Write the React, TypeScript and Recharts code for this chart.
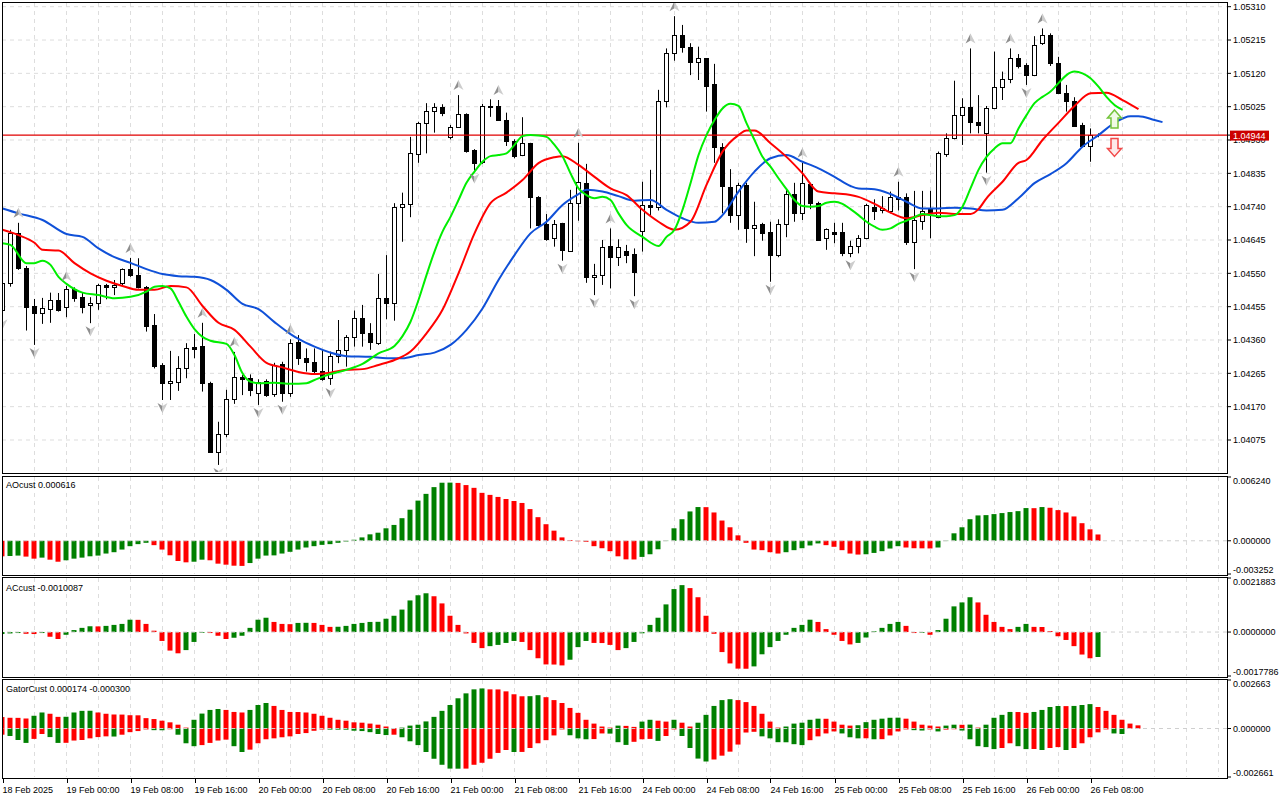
import React from 'react';
import { ComposedChart, Bar, Line, Scatter, XAxis, YAxis, CartesianGrid, ReferenceLine, Cell } from 'recharts';

// H1 bars from 18 Feb 2025 16:00 to 26 Feb 08:00 (bar 137 is the forming one)
// [open, high, low, close]
const OHLC: [number, number, number, number][] = [
  [1.04446, 1.04531, 1.04428, 1.04522], [1.04522, 1.04674, 1.04512, 1.04664], [1.04664, 1.04694, 1.04560, 1.04564],
  [1.04564, 1.04571, 1.04387, 1.04455], [1.04457, 1.04477, 1.04346, 1.04438], [1.04438, 1.04480, 1.04406, 1.04450],
  [1.04448, 1.04495, 1.04409, 1.04474], [1.04474, 1.04494, 1.04441, 1.04446], [1.04455, 1.04514, 1.04425, 1.04505],
  [1.04505, 1.04510, 1.04469, 1.04479], [1.04482, 1.04494, 1.04436, 1.04455], [1.04459, 1.04482, 1.04408, 1.04465],
  [1.04465, 1.04520, 1.04446, 1.04516], [1.04516, 1.04520, 1.04476, 1.04510], [1.04512, 1.04531, 1.04488, 1.04518],
  [1.04522, 1.04564, 1.04514, 1.04562], [1.04562, 1.04594, 1.04540, 1.04545], [1.04545, 1.04593, 1.04507, 1.04510],
  [1.04512, 1.04514, 1.04384, 1.04400], [1.04403, 1.04434, 1.04279, 1.04286], [1.04289, 1.04294, 1.04189, 1.04237],
  [1.04237, 1.04329, 1.04189, 1.04243], [1.04241, 1.04314, 1.04215, 1.04279], [1.04279, 1.04351, 1.04251, 1.04336],
  [1.04341, 1.04377, 1.04308, 1.04335], [1.04343, 1.04409, 1.04213, 1.04238], [1.04238, 1.04241, 1.04039, 1.04042],
  [1.04042, 1.04127, 1.04004, 1.04092], [1.04092, 1.04218, 1.04083, 1.04191], [1.04191, 1.04326, 1.04178, 1.04255],
  [1.04255, 1.04260, 1.04203, 1.04250], [1.04251, 1.04262, 1.04200, 1.04218], [1.04208, 1.04248, 1.04175, 1.04241],
  [1.04244, 1.04248, 1.04198, 1.04203], [1.04206, 1.04295, 1.04198, 1.04289], [1.04292, 1.04298, 1.04184, 1.04210],
  [1.04210, 1.04362, 1.04198, 1.04352], [1.04355, 1.04374, 1.04289, 1.04308], [1.04308, 1.04336, 1.04270, 1.04298],
  [1.04298, 1.04336, 1.04265, 1.04273], [1.04273, 1.04334, 1.04244, 1.04248], [1.04251, 1.04327, 1.04232, 1.04315],
  [1.04315, 1.04417, 1.04294, 1.04332], [1.04332, 1.04374, 1.04284, 1.04368], [1.04368, 1.04444, 1.04341, 1.04422],
  [1.04422, 1.04460, 1.04341, 1.04381], [1.04381, 1.04408, 1.04332, 1.04355], [1.04352, 1.04548, 1.04346, 1.04479],
  [1.04479, 1.04602, 1.04419, 1.04465], [1.04465, 1.04750, 1.04415, 1.04738], [1.04738, 1.04780, 1.04640, 1.04747],
  [1.04747, 1.04939, 1.04710, 1.04892], [1.04889, 1.04982, 1.04865, 1.04978], [1.04978, 1.05035, 1.04892, 1.05014],
  [1.05014, 1.05035, 1.04951, 1.05025], [1.05025, 1.05032, 1.04998, 1.05006], [1.04938, 1.04973, 1.04932, 1.04968],
  [1.04968, 1.05058, 1.04966, 1.05004], [1.05004, 1.05006, 1.04894, 1.04900], [1.04902, 1.04904, 1.04843, 1.04865],
  [1.04868, 1.05033, 1.04862, 1.05027], [1.05025, 1.05046, 1.04996, 1.05027], [1.05027, 1.05044, 1.04985, 1.04987],
  [1.04987, 1.05008, 1.04913, 1.04928], [1.04928, 1.04932, 1.04878, 1.04884], [1.04887, 1.04995, 1.04884, 1.04921],
  [1.04921, 1.04922, 1.04678, 1.04767], [1.04768, 1.04770, 1.04683, 1.04688], [1.04691, 1.04719, 1.04643, 1.04647],
  [1.04650, 1.04702, 1.04626, 1.04691], [1.04693, 1.04694, 1.04586, 1.04617], [1.04615, 1.04788, 1.04612, 1.04750],
  [1.04750, 1.04922, 1.04700, 1.04811], [1.04808, 1.04862, 1.04523, 1.04539], [1.04539, 1.04577, 1.04488, 1.04545],
  [1.04544, 1.04645, 1.04517, 1.04626], [1.04628, 1.04678, 1.04507, 1.04597], [1.04597, 1.04647, 1.04571, 1.04624],
  [1.04615, 1.04631, 1.04579, 1.04602], [1.04605, 1.04621, 1.04485, 1.04555], [1.04672, 1.04811, 1.04612, 1.04745],
  [1.04745, 1.04845, 1.04716, 1.04738], [1.04738, 1.05073, 1.04729, 1.05041], [1.05041, 1.05191, 1.05023, 1.05179],
  [1.05179, 1.05283, 1.05156, 1.05229], [1.05229, 1.05258, 1.05179, 1.05194], [1.05194, 1.05206, 1.05115, 1.05153],
  [1.05153, 1.05196, 1.05101, 1.05163], [1.05163, 1.05163, 1.05011, 1.05084], [1.05090, 1.05147, 1.04865, 1.04909],
  [1.04911, 1.04921, 1.04721, 1.04799], [1.04797, 1.04847, 1.04694, 1.04716], [1.04716, 1.04808, 1.04674, 1.04802],
  [1.04802, 1.04808, 1.04637, 1.04680], [1.04680, 1.04754, 1.04599, 1.04688], [1.04691, 1.04694, 1.04643, 1.04666],
  [1.04669, 1.04697, 1.04526, 1.04602], [1.04602, 1.04704, 1.04596, 1.04691], [1.04691, 1.04792, 1.04653, 1.04776],
  [1.04776, 1.04808, 1.04697, 1.04723], [1.04721, 1.04865, 1.04702, 1.04807], [1.04805, 1.04808, 1.04733, 1.04750],
  [1.04751, 1.04754, 1.04643, 1.04645], [1.04650, 1.04678, 1.04617, 1.04676], [1.04667, 1.04694, 1.04636, 1.04662],
  [1.04667, 1.04694, 1.04599, 1.04609], [1.04609, 1.04643, 1.04596, 1.04628], [1.04628, 1.04659, 1.04607, 1.04650],
  [1.04650, 1.04748, 1.04647, 1.04745], [1.04740, 1.04761, 1.04702, 1.04729], [1.04731, 1.04770, 1.04721, 1.04736],
  [1.04729, 1.04783, 1.04721, 1.04767], [1.04768, 1.04811, 1.04729, 1.04761], [1.04767, 1.04778, 1.04631, 1.04640],
  [1.04640, 1.04785, 1.04562, 1.04702], [1.04700, 1.04785, 1.04674, 1.04729], [1.04735, 1.04785, 1.04650, 1.04725],
  [1.04710, 1.04897, 1.04707, 1.04892], [1.04890, 1.04949, 1.04882, 1.04935], [1.04935, 1.05099, 1.04932, 1.05001],
  [1.05001, 1.05049, 1.04916, 1.05023], [1.05025, 1.05191, 1.04949, 1.04982], [1.04982, 1.05058, 1.04949, 1.04973],
  [1.04949, 1.05027, 1.04837, 1.05020], [1.05020, 1.05182, 1.05018, 1.05082], [1.05082, 1.05125, 1.05044, 1.05103],
  [1.05103, 1.05191, 1.05092, 1.05163], [1.05163, 1.05175, 1.05134, 1.05141], [1.05144, 1.05149, 1.05087, 1.05115],
  [1.05115, 1.05226, 1.05112, 1.05201], [1.05206, 1.05248, 1.05201, 1.05229], [1.05229, 1.05234, 1.05141, 1.05150],
  [1.05150, 1.05167, 1.05061, 1.05063], [1.05063, 1.05087, 1.05011, 1.05042], [1.05042, 1.05052, 1.04968, 1.04970],
  [1.04973, 1.04979, 1.04911, 1.04913], [1.04913, 1.04963, 1.04868, 1.04944], [1.04944, 1.04949, 1.04938, 1.04944],
];

// alligator lines, [bar, price]; they run past the last bar by their shift
const JAW: [number, number][] = [
  [0, 1.04735], [2, 1.04721], [5, 1.04702], [8, 1.04662], [10, 1.04654], [12, 1.04621], [14, 1.04596], [16, 1.0458],
  [18, 1.04562], [20, 1.04548], [22, 1.04542], [24, 1.0454], [26, 1.04531], [28, 1.04503], [30, 1.04463], [32, 1.04448],
  [34, 1.04411], [36, 1.04377], [37, 1.04363], [39, 1.04341], [41, 1.04324], [43, 1.04314], [46, 1.04312], [48, 1.04308],
  [50, 1.04308], [52, 1.04317], [54, 1.04324], [56, 1.04346], [58, 1.04389], [60, 1.0445], [62, 1.04531], [64, 1.04602],
  [66, 1.04664], [68, 1.04697], [70, 1.04745], [72, 1.04776], [73, 1.04788], [75, 1.04783], [77, 1.0477], [79, 1.04757],
  [81, 1.04759], [83, 1.04731], [85, 1.04707], [87, 1.04694], [89, 1.04697], [90, 1.04716], [92, 1.04783], [94, 1.0484],
  [96, 1.04878], [98, 1.04887], [100, 1.04868], [102, 1.04849], [104, 1.04825], [106, 1.04799], [107, 1.04792], [109, 1.0479],
  [111, 1.04776], [113, 1.04754], [115, 1.04735], [117, 1.04735], [119, 1.04737], [121, 1.04735], [123, 1.04729], [125, 1.04731],
  [127, 1.04764], [129, 1.04807], [131, 1.04833], [133, 1.04864], [135, 1.04911], [137, 1.04944], [139, 1.04979], [141, 1.04998],
  [142, 1.04998], [144, 1.04987], [145, 1.04981],
];

const TEETH: [number, number][] = [
  [0, 1.04674], [2, 1.04659], [4, 1.04637], [5, 1.04617], [7, 1.04615], [9, 1.04579], [11, 1.0455], [13, 1.04529],
  [15, 1.04514], [17, 1.04503], [19, 1.04503], [21, 1.04514], [23, 1.0451], [25, 1.04457], [27, 1.04409], [29, 1.04389],
  [31, 1.04341], [33, 1.04295], [35, 1.04282], [37, 1.04269], [39, 1.04263], [41, 1.04267], [43, 1.04275], [45, 1.04277],
  [47, 1.04289], [49, 1.04303], [51, 1.04327], [53, 1.04379], [55, 1.04446], [57, 1.0455], [59, 1.04664], [61, 1.0475],
  [63, 1.0478], [65, 1.04816], [67, 1.04864], [69, 1.04881], [70, 1.04884], [72, 1.04859], [74, 1.04825], [76, 1.04792],
  [78, 1.04773], [80, 1.04731], [82, 1.04697], [84, 1.04674], [86, 1.04697], [88, 1.04802], [90, 1.04897], [92, 1.04944],
  [93, 1.04957], [94, 1.04957], [96, 1.04921], [98, 1.04882], [100, 1.04835], [102, 1.04783], [104, 1.04778], [106, 1.04773],
  [107, 1.04768], [109, 1.04748], [111, 1.04723], [113, 1.04707], [115, 1.04716], [117, 1.04723], [119, 1.04719], [121, 1.04719],
  [122, 1.04733], [123, 1.04764], [125, 1.04811], [127, 1.04865], [128, 1.04873], [130, 1.0493], [132, 1.04979], [134, 1.05027],
  [136, 1.05063], [138, 1.05065], [140, 1.05044], [142, 1.05018],
];

const LIPS: [number, number][] = [
  [0, 1.04636], [1, 1.04631], [3, 1.04579], [4, 1.04579], [5, 1.04586], [6, 1.04574], [7, 1.0454], [8, 1.0452],
  [10, 1.04495], [12, 1.04488], [14, 1.04479], [16, 1.04483], [18, 1.04498], [19, 1.04512], [20, 1.04514], [21, 1.04507],
  [22, 1.04469], [23, 1.04426], [24, 1.04391], [25, 1.04369], [26, 1.04358], [28, 1.04349], [29, 1.04317], [30, 1.04265],
  [31, 1.04241], [32, 1.04237], [34, 1.04238], [36, 1.04235], [38, 1.04237], [39, 1.04246], [41, 1.04263], [43, 1.04275],
  [45, 1.04292], [47, 1.04322], [49, 1.04343], [50, 1.04371], [51, 1.04412], [52, 1.04474], [53, 1.04545], [54, 1.04612],
  [55, 1.04669], [56, 1.04711], [57, 1.04759], [58, 1.04808], [59, 1.0484], [60, 1.04868], [61, 1.04884], [62, 1.04887],
  [63, 1.04892], [64, 1.04916], [65, 1.04941], [66, 1.04944], [67, 1.04943], [68, 1.04939], [69, 1.04916], [70, 1.04884],
  [71, 1.04835], [72, 1.04792], [73, 1.04773], [74, 1.04764], [75, 1.04768], [76, 1.04759], [77, 1.04721], [78, 1.04688],
  [80, 1.04654], [82, 1.04628], [83, 1.04654], [84, 1.04674], [85, 1.04731], [86, 1.04807], [87, 1.04887], [88, 1.04944],
  [89, 1.04987], [90, 1.0502], [91, 1.05033], [92, 1.05027], [93, 1.04978], [94, 1.0493], [95, 1.04882], [96, 1.04854],
  [97, 1.04821], [98, 1.0479], [99, 1.04759], [100, 1.04742], [101, 1.0474], [102, 1.04742], [103, 1.04751], [104, 1.04754],
  [105, 1.04748], [106, 1.04733], [107, 1.04716], [108, 1.04697], [109, 1.04683], [110, 1.04674], [111, 1.04678], [112, 1.04691],
  [113, 1.047], [114, 1.0471], [115, 1.04719], [116, 1.04716], [117, 1.04713], [118, 1.04713], [119, 1.04716], [120, 1.0474],
  [121, 1.04792], [122, 1.04845], [123, 1.04882], [124, 1.04906], [125, 1.04921], [126, 1.04921], [127, 1.04963], [128, 1.05001],
  [129, 1.05035], [130, 1.05053], [131, 1.05068], [132, 1.05092], [133, 1.05115], [134, 1.05125], [135, 1.0512], [136, 1.05106],
  [137, 1.05082], [138, 1.05053], [139, 1.0503], [140, 1.05016],
];

const AO = [
  -0.00152, -0.00149, -0.00145, -0.00155, -0.00175, -0.00165, -0.00185, -0.00205, -0.00191, -0.00175,
  -0.00165, -0.00152, -0.00145, -0.00125, -0.00112, -0.00086, -0.00053, -0.00033, -0.0002, -0.00043,
  -0.00086, -0.00142, -0.00198, -0.00211, -0.00205, -0.00185, -0.00191, -0.00224, -0.00234, -0.00244,
  -0.00246, -0.00218, -0.00175, -0.00145, -0.00143, -0.00125, -0.00108, -0.00086, -0.00066, -0.00053,
  -0.0004, -0.00033, -0.0002, -0.00007, 0.0001, 0.00033, 0.00063, 0.00079, 0.00122, 0.00155,
  0.00221, 0.00304, 0.00393, 0.00459, 0.00525, 0.00568, 0.00569, 0.00566, 0.00545, 0.00518,
  0.00469, 0.00449, 0.00429, 0.00409, 0.00389, 0.0037, 0.0031, 0.00231, 0.00162, 0.00099,
  0.00033, 0.00007, -0.00005, -0.0001, -0.00053, -0.00073, -0.00102, -0.00152, -0.00182, -0.00183,
  -0.00158, -0.00132, -0.00083, -0.00003, 0.00122, 0.00211, 0.00287, 0.0033, 0.00329, 0.00277,
  0.00198, 0.00132, 0.00053, -0.0002, -0.00086, -0.00092, -0.00112, -0.00125, -0.00112, -0.00092,
  -0.00073, -0.00046, -0.00026, -0.00043, -0.00059, -0.00092, -0.00125, -0.00135, -0.00132, -0.00119,
  -0.00102, -0.00076, -0.00053, -0.00066, -0.00073, -0.00074, -0.00075, -0.00066, -0.00003, 0.00073,
  0.00132, 0.00211, 0.00248, 0.00251, 0.00261, 0.00271, 0.00281, 0.0029, 0.0032, 0.00319,
  0.0033, 0.00323, 0.003, 0.00277, 0.00238, 0.00172, 0.00112, 0.000616,
];

const AC = [
  -0.00008, -0.000055, -0.00004, -0.00007, -0.00008, -0.00004, -0.00019, -0.00028, -0.00011, 0.00008,
  0.00017, 0.000235, 0.00023, 0.00025, 0.00029, 0.00033, 0.0005, 0.000495, 0.00033, 0.000055,
  -0.00036, -0.00075, -0.00086, -0.00073, -0.0004, -0.00003, -0.00004, -0.00015, -0.00028, -0.00023,
  -0.00015, 0.00017, 0.0005, 0.00058, 0.00041, 0.00033, 0.00032, 0.00037, 0.000375, 0.00037,
  0.00029, 0.00021, 0.000215, 0.00025, 0.00033, 0.00037, 0.00041, 0.000415, 0.00054, 0.00066,
  0.00091, 0.00128, 0.00149, 0.00157, 0.00145, 0.00116, 0.00066, 0.00029, -0.000055, -0.00044,
  -0.00065, -0.00057, -0.00052, -0.00044, -0.00036, -0.0004, -0.00073, -0.00106, -0.00131, -0.001315,
  -0.00135, -0.00112, -0.00061, -0.00036, -0.00044, -0.000445, -0.00052, -0.00073, -0.00065, -0.0004,
  -0.00005, 0.00029, 0.00058, 0.00112, 0.00174, 0.0019, 0.00178, 0.00141, 0.00066, -0.00007,
  -0.00081, -0.00127, -0.00148, -0.001485, -0.00139, -0.0009, -0.00061, -0.00036, -0.00011, 0.00017,
  0.00029, 0.0005, 0.00041, 0.00012, -0.00011, -0.00036, -0.0005, -0.00044, -0.00022, 0.00003,
  0.00017, 0.00033, 0.00041, 0.00025, -0.00004, -0.00003, -0.00011, 0.00008, 0.00054, 0.00104,
  0.0012, 0.00141, 0.0012, 0.0007, 0.00041, 0.00021, 0.00012, 0.00021, 0.00033, 0.00021,
  0.000205, 0.00004, -0.00017, -0.00032, -0.00057, -0.00091, -0.00106, -0.0010087,
];

const GATOR_UP = [
  0.00063, 0.00059, 0.000585, 0.00055, 0.0007, 0.00088, 0.00081, 0.00064, 0.000645, 0.00088,
  0.00097, 0.000975, 0.00088, 0.00081, 0.00077, 0.000765, 0.00073, 0.000725, 0.00057, 0.00052,
  0.00043, 0.00034, 0.00021, 0.00005, 0.00048, 0.00082, 0.00102, 0.00107, 0.00102, 0.00091,
  0.00088, 0.00102, 0.00129, 0.0014, 0.00124, 0.00102, 0.00091, 0.000905, 0.00088, 0.00081,
  0.0007, 0.00059, 0.00048, 0.00043, 0.00034, 0.00032, 0.00027, 0.00021, 0.00011, 0.00002,
  0.00005, 0.00016, 0.00021, 0.00039, 0.00064, 0.00097, 0.00129, 0.00166, 0.00193, 0.00215,
  0.0022, 0.00215, 0.002145, 0.00204, 0.00188, 0.00177, 0.001775, 0.00183, 0.00172, 0.00156,
  0.0014, 0.00113, 0.00086, 0.00048, 0.00027, 0.00011, 0.00005, 0.00016, 0.000145, 0.00009,
  0.00038, 0.00048, 0.00043, 0.00038, 0.00048, 0.00032, 0.00011, 0.00032, 0.00075, 0.00124,
  0.00156, 0.00161, 0.00156, 0.00145, 0.00124, 0.00081, 0.00038, 0.00005, 0.00011, 0.00027,
  0.00032, 0.00048, 0.00054, 0.000535, 0.00038, 0.00021, 0.00016, 0.00018, 0.00035, 0.00048,
  0.00054, 0.00059, 0.000595, 0.00054, 0.00038, 0.00021, 0.00016, 0.00011, 0.00016, 0.00021,
  0.000205, 0.000215, 0.00005, 0.00021, 0.00059, 0.00075, 0.00091, 0.000905, 0.00086, 0.00091,
  0.00102, 0.00118, 0.001235, 0.00123, 0.00124, 0.00129, 0.00134, 0.00118, 0.00097, 0.00075,
  0.00048, 0.00027, 0.000174,
];

const GATOR_DOWN = [
  -0.00034, -0.00041, -0.00063, -0.00079, -0.00057, -0.0003, -0.00047, -0.00079, -0.000785, -0.00066,
  -0.00063, -0.00054, -0.00047, -0.00043, -0.00044, -0.00034, -0.0002, -0.00014, -0.00005, -0.00009,
  -0.000095, -0.00004, -0.00034, -0.00081, -0.00097, -0.00091, -0.00079, -0.00066, -0.00061, -0.00097,
  -0.00129, -0.00116, -0.00081, -0.00059, -0.00054, -0.00048, -0.00043, -0.0003, -0.00025, -0.000125,
  -0.000055, -0.00006, -0.000062, -0.000065, -0.00012, -0.00014, -0.0002, -0.0003, -0.00036, -0.00034,
  -0.00048, -0.0007, -0.00091, -0.00129, -0.00166, -0.00199, -0.0022, -0.002205, -0.0022, -0.00199,
  -0.00188, -0.00166, -0.00134, -0.00118, -0.00129, -0.001285, -0.00107, -0.00081, -0.00064, -0.00038,
  -0.00005, -0.00037, -0.00054, -0.00059, -0.00058, -0.00027, -0.00028, -0.00075, -0.0009, -0.00073,
  -0.00059, -0.00057, -0.00068, -0.00041, -0.00005, -0.00041, -0.00107, -0.00165, -0.00181, -0.0017,
  -0.00149, -0.00127, -0.00088, -0.00022, -0.00018, -0.00043, -0.00054, -0.00075, -0.000755, -0.00086,
  -0.00091, -0.00064, -0.00043, -0.00027, -0.00016, -0.00027, -0.00048, -0.00054, -0.000535, -0.00059,
  -0.000585, -0.00038, -0.00016, -0.00005, -0.00009, -0.00011, -0.00005, -0.00016, -0.00006, -0.00004,
  -0.00011, -0.00059, -0.00097, -0.00102, -0.00113, -0.00107, -0.00081, -0.00097, -0.00113, -0.001125,
  -0.00118, -0.00107, -0.00102, -0.00118, -0.00107, -0.00081, -0.00048, -0.00021, -0.00005, -0.00027,
  -0.0003,
];

const FRACTAL_UP = [2, 8, 16, 25, 29, 36, 57, 62, 72, 76, 84, 100, 112, 121, 126, 130];
const FRACTAL_DOWN = [0, 4, 11, 20, 27, 32, 35, 41, 59, 70, 74, 79, 96, 106, 114, 123, 128];

const LAST_PRICE = 1.04944;
const SIGNAL_BAR = 139;
const SIGNAL_UP_PRICE = 1.0499;
const SIGNAL_DOWN_PRICE = 1.04909;

const PRICE_TICKS = [
  1.0531, 1.05215, 1.0512, 1.05025, 1.0493, 1.04835, 1.0474, 1.04645, 1.0455, 1.04455, 1.0436, 1.04265, 1.0417, 1.04075,
];
const AO_TICKS = [0.00624, 0, -0.003252];
const AC_TICKS = [0.0021883, 0, -0.0017786];
const GATOR_TICKS = [0.002663, 0, -0.002661];

const TIME_BARS = [0, 8, 16, 24, 32, 40, 48, 56, 64, 72, 80, 88, 96, 104, 112, 120, 128, 136];
const TIME_LABELS = [
  '18 Feb 2025', '19 Feb 00:00', '19 Feb 08:00', '19 Feb 16:00', '20 Feb 00:00', '20 Feb 08:00',
  '20 Feb 16:00', '21 Feb 00:00', '21 Feb 08:00', '21 Feb 16:00', '24 Feb 00:00', '24 Feb 08:00',
  '24 Feb 16:00', '25 Feb 00:00', '25 Feb 08:00', '25 Feb 16:00', '26 Feb 00:00', '26 Feb 08:00',
];
const GRID_BARS = Array.from({ length: 39 }, (_, i) => i * 4);

const SLOTS = 153;
const X_DOMAIN = [-0.0625, 153.0625];
const FONT = '"Liberation Sans", Arial, sans-serif';
const GREEN = '#008000';
const RED = '#ff0000';
const AXIS_W = 53;

const jawAt = new Map(JAW);
const teethAt = new Map(TEETH);
const lipsAt = new Map(LIPS);

const rows = Array.from({ length: SLOTS }, (_, k) => {
  const bar = OHLC[k];
  return {
    k,
    range: bar ? [bar[2], bar[1]] : null,
    o: bar ? bar[0] : null,
    h: bar ? bar[1] : null,
    l: bar ? bar[2] : null,
    c: bar ? bar[3] : null,
    jaw: jawAt.get(k) ?? null,
    teeth: teethAt.get(k) ?? null,
    lips: lipsAt.get(k) ?? null,
    ao: AO[k] ?? null,
    ac: AC[k] ?? null,
    gu: GATOR_UP[k] ?? null,
    gd: GATOR_DOWN[k] ?? null,
  };
});

// bar colour: green when the value grew against the previous bar
const rising = (vals: number[], first: boolean, byAbs = false) =>
  vals.map((v, i) => {
    if (i === 0) return first;
    return byAbs ? Math.abs(v) > Math.abs(vals[i - 1]) : v > vals[i - 1];
  });

const aoUp = rising(AO, false);
const acUp = rising(AC, true);
const guUp = rising(GATOR_UP, false, true);
const gdUp = rising(GATOR_DOWN, false, true);

const fractalsUp = FRACTAL_UP.map((k) => ({ k, p: OHLC[k][1] }));
const fractalsDown = FRACTAL_DOWN.map((k) => ({ k, p: OHLC[k][2] }));

const Candle = (props: any) => {
  const { x, y, width, height, payload } = props;
  if (!payload || payload.o == null || x == null) return <g />;
  const top = Math.min(y, y + height);
  const span = Math.abs(height);
  const { o, h, l, c } = payload;
  const py = (v: number) => (h === l ? top : top + ((h - v) / (h - l)) * span);
  const cx = Math.round(x + width / 2) + 0.5;
  const bTop = Math.round(py(Math.max(o, c))) + 0.5;
  const bBot = Math.round(py(Math.min(o, c))) + 0.5;
  const up = c >= o;
  return (
    <g>
      <line x1={cx} x2={cx} y1={top} y2={top + span} stroke="#000" strokeWidth={1} />
      <rect x={cx - 2} y={bTop} width={4} height={Math.max(bBot - bTop, 0)} fill={up ? '#fff' : '#000'} stroke="#000" strokeWidth={1} />
    </g>
  );
};

const Fractal = (props: any) => {
  const { cx, cy, up } = props;
  if (cx == null || cy == null) return <g />;
  const s = up ? 1 : -1;
  const yc = up ? cy - 10 : cy + 8;
  const tip = yc - 5 * s;
  const base = yc + 5 * s;
  const notch = yc + 2 * s;
  return (
    <g>
      <path d={`M${cx},${tip} L${cx - 5},${base} L${cx},${notch} Z`} fill="#8f8f8f" />
      <path d={`M${cx},${tip} L${cx + 5},${base} L${cx},${notch} Z`} fill="#cdcdcd" />
    </g>
  );
};

const Signal = (props: any) => {
  const { cx, cy, up } = props;
  if (cx == null || cy == null) return <g />;
  const s = up ? 1 : -1;
  const pts = [[0, -9], [7, -1], [3.5, -1], [3.5, 9], [-3.5, 9], [-3.5, -1], [-7, -1]]
    .map(([dx, dy]) => `${cx + dx},${cy + dy * s}`)
    .join(' ');
  return <polygon points={pts} fill={up ? '#f0fae6' : '#fdeaea'} stroke={up ? '#74c43c' : '#f24a4a'} strokeWidth={1.5} />;
};

const PriceTick = (props: any) => {
  const { x, y, payload } = props;
  const v = payload.value;
  if (v === LAST_PRICE) {
    return (
      <g>
        <rect x={x - 3} y={y - 4.5} width={39} height={10} fill="#cc0000" />
        <text x={x} y={y + 3.8} fontSize={9} fontFamily={FONT} fill="#fff">{v.toFixed(5)}</text>
      </g>
    );
  }
  return <text x={x} y={y + 3.3} fontSize={9} fontFamily={FONT} fill="#000">{v.toFixed(5)}</text>;
};

const makeSubTick = (ticks: number[], digits: number) => (props: any) => {
  const { x, y, payload } = props;
  const v = payload.value;
  const dy = v === ticks[0] ? 6.8 : v === ticks[2] ? -1.2 : 3.3;
  return <text x={x} y={y + dy} fontSize={9} fontFamily={FONT} fill="#000">{v.toFixed(digits)}</text>;
};

const TimeTick = (props: any) => {
  const { x, y, payload } = props;
  const label = TIME_LABELS[TIME_BARS.indexOf(payload.value)];
  return (
    <g>
      <line x1={Math.round(x) + 0.5} x2={Math.round(x) + 0.5} y1={y} y2={y + 4} stroke="#000" />
      <text x={x} y={y + 14} fontSize={9} fontFamily={FONT} fill="#000">{label}</text>
    </g>
  );
};

const gridProps = { stroke: '#dddddd', strokeDasharray: '4 4' };

const SubPanel = ({ top, height, dataKey, ticks, digits, up }: any) => (
  <div style={{ position: 'absolute', left: 0, top }}>
    <ComposedChart width={1280} height={height} data={rows} margin={{ top: 1, right: 0, bottom: 1, left: 2 }}>
      <CartesianGrid {...gridProps} horizontal={false} verticalValues={GRID_BARS} />
      <XAxis type="number" dataKey="k" domain={X_DOMAIN} allowDataOverflow hide />
      <YAxis
        orientation="right"
        width={AXIS_W}
        domain={[ticks[2], ticks[0]]}
        allowDataOverflow
        ticks={ticks}
        interval={0}
        tick={makeSubTick(ticks, digits)}
        tickSize={4}
        tickLine={{ stroke: '#000' }}
        axisLine={false}
      />
      <Bar dataKey={dataKey} barSize={5} isAnimationActive={false}>
        {rows.map((r, i) => (
          <Cell key={i} fill={up[i] ? GREEN : RED} />
        ))}
      </Bar>
      <ReferenceLine y={0} stroke="#cfcfcf" strokeDasharray="4 4" />
    </ComposedChart>
  </div>
);

export default function App() {
  return (
    <div style={{ position: 'absolute', left: 0, top: 0, width: 1280, height: 800, background: '#fff', overflow: 'hidden', fontFamily: FONT }}>
      <div style={{ position: 'absolute', left: 0, top: 0 }}>
        <ComposedChart width={1280} height={474} data={rows} margin={{ top: 3, right: 0, bottom: 2, left: 2 }}>
          <CartesianGrid {...gridProps} horizontalValues={PRICE_TICKS} verticalValues={GRID_BARS} />
          <XAxis type="number" dataKey="k" domain={X_DOMAIN} allowDataOverflow hide />
          <YAxis
            orientation="right"
            width={AXIS_W}
            domain={[1.039838, 1.053205]}
            allowDataOverflow
            ticks={[...PRICE_TICKS, LAST_PRICE]}
            interval={0}
            tick={<PriceTick />}
            tickSize={4}
            tickLine={{ stroke: '#000' }}
            axisLine={false}
          />
          <ReferenceLine y={LAST_PRICE} stroke="#e00000" strokeWidth={1.2} />
          <Bar dataKey="range" barSize={5} shape={<Candle />} isAnimationActive={false} />
          <Line type="monotone" dataKey="jaw" stroke="#0f50d8" strokeWidth={2} dot={false} connectNulls isAnimationActive={false} />
          <Line type="monotone" dataKey="teeth" stroke="#ff0000" strokeWidth={2} dot={false} connectNulls isAnimationActive={false} />
          <Line type="monotone" dataKey="lips" stroke="#00ee00" strokeWidth={2} dot={false} connectNulls isAnimationActive={false} />
          <Scatter data={fractalsUp} dataKey="p" shape={(p: any) => <Fractal {...p} up />} isAnimationActive={false} />
          <Scatter data={fractalsDown} dataKey="p" shape={(p: any) => <Fractal {...p} up={false} />} isAnimationActive={false} />
          <Scatter data={[{ k: SIGNAL_BAR, p: SIGNAL_UP_PRICE }]} dataKey="p" shape={(p: any) => <Signal {...p} up />} isAnimationActive={false} />
          <Scatter data={[{ k: SIGNAL_BAR, p: SIGNAL_DOWN_PRICE }]} dataKey="p" shape={(p: any) => <Signal {...p} up={false} />} isAnimationActive={false} />
        </ComposedChart>
      </div>

      <SubPanel top={476} height={99} dataKey="ao" ticks={AO_TICKS} digits={6} up={aoUp} />
      <SubPanel top={577} height={100} dataKey="ac" ticks={AC_TICKS} digits={7} up={acUp} />

      <div style={{ position: 'absolute', left: 0, top: 679 }}>
        <ComposedChart width={1280} height={121} data={rows} stackOffset="sign" margin={{ top: 1, right: 0, bottom: 0, left: 2 }}>
          <CartesianGrid {...gridProps} horizontal={false} verticalValues={GRID_BARS} />
          <XAxis
            type="number"
            dataKey="k"
            domain={X_DOMAIN}
            allowDataOverflow
            ticks={TIME_BARS}
            interval={0}
            height={23}
            tickSize={0}
            tickLine={false}
            axisLine={false}
            tick={<TimeTick />}
          />
          <YAxis
            orientation="right"
            width={AXIS_W}
            domain={[GATOR_TICKS[2], GATOR_TICKS[0]]}
            allowDataOverflow
            ticks={GATOR_TICKS}
            interval={0}
            tick={makeSubTick(GATOR_TICKS, 6)}
            tickSize={4}
            tickLine={{ stroke: '#000' }}
            axisLine={false}
          />
          <Bar dataKey="gu" stackId="g" barSize={5} isAnimationActive={false}>
            {rows.map((r, i) => (
              <Cell key={i} fill={guUp[i] ? GREEN : RED} />
            ))}
          </Bar>
          <Bar dataKey="gd" stackId="g" barSize={5} isAnimationActive={false}>
            {rows.map((r, i) => (
              <Cell key={i} fill={gdUp[i] ? GREEN : RED} />
            ))}
          </Bar>
          <ReferenceLine y={0} stroke="#cfcfcf" strokeDasharray="4 4" />
        </ComposedChart>
      </div>

      <svg width={1280} height={800} style={{ position: 'absolute', left: 0, top: 0, pointerEvents: 'none' }}>
        <g fill="none" stroke="#000" strokeWidth={1}>
          <rect x={2.5} y={2.5} width={1225} height={471} />
          <rect x={2.5} y={476.5} width={1225} height={99} />
          <rect x={2.5} y={577.5} width={1225} height={100} />
          <rect x={2.5} y={679.5} width={1225} height={99} />
        </g>
        <g fontSize={9} fontFamily={FONT} fill="#000">
          <text x={6} y={488}>AOcust 0.000616</text>
          <text x={6} y={590.5}>ACcust -0.0010087</text>
          <text x={6} y={692}>GatorCust 0.000174 -0.000300</text>
        </g>
      </svg>
    </div>
  );
}
